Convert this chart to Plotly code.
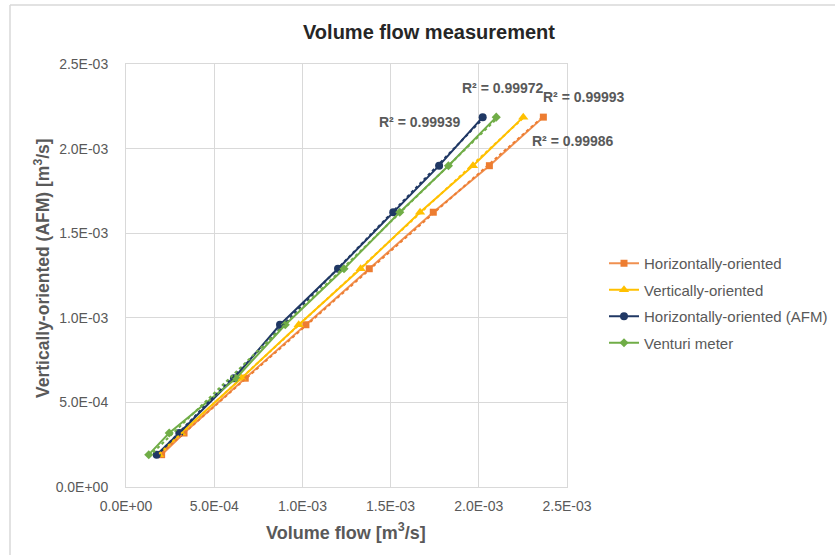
import numpy as np
import plotly.graph_objects as go

# ---- data ----
y_afm_vertical = [1.91e-4, 3.19e-4, 6.43e-4, 9.59e-4, 1.290e-3, 1.624e-3, 1.899e-3, 2.186e-3]

x_horizontal = [2.02e-4, 3.29e-4, 6.76e-4, 1.020e-3, 1.379e-3, 1.742e-3, 2.060e-3, 2.366e-3]
x_vertical = [1.87e-4, 3.12e-4, 6.54e-4, 9.79e-4, 1.330e-3, 1.667e-3, 1.967e-3, 2.252e-3]
x_horizontal_afm = [1.74e-4, 3.02e-4, 6.12e-4, 8.73e-4, 1.202e-3, 1.515e-3, 1.775e-3, 2.022e-3]
x_venturi = [1.29e-4, 2.45e-4, 6.24e-4, 9.03e-4, 1.236e-3, 1.552e-3, 1.828e-3, 2.099e-3]

series_names = ["Horizontally-oriented", "Vertically-oriented",
                "Horizontally-oriented (AFM)", "Venturi meter"]
r2_labels = ["R² = 0.99972", "R² = 0.99993", "R² = 0.99939", "R² = 0.99986"]

tick_vals = [0.0, 5.0e-4, 1.0e-3, 1.5e-3, 2.0e-3, 2.5e-3]
tick_text = ["0.0E+00", "5.0E-04", "1.0E-03", "1.5E-03", "2.0E-03", "2.5E-03"]

# ---- styling ----
W, H = 835, 555
L, R, T, B = 126, 567, 64, 487


def px_x(p):
    return (p - L) / (R - L)


def px_y(p):
    return (B - p) / (B - T)


GRAY = "#595959"
GRID = "#D9D9D9"
FONT = "Liberation Sans, Arial, sans-serif"

styles = [
    dict(color="#ED7D31", line="rgba(237,125,49,0.85)", symbol="square", size=7),
    dict(color="#FFC000", line="#FFC000", symbol="triangle-up", size=9),
    dict(color="#203864", line="#203864", symbol="circle", size=8),
    dict(color="#70AD47", line="#70AD47", symbol="diamond", size=7),
]
xs = [x_horizontal, x_vertical, x_horizontal_afm, x_venturi]

fig = go.Figure()
for i, (name, xv, st) in enumerate(zip(series_names, xs, styles)):
    fig.add_trace(go.Scatter(
        x=xv, y=y_afm_vertical, mode="lines+markers", name=name,
        legendgroup=f"g{i}",
        line=dict(color=st["line"], width=2),
        marker=dict(color=st["color"], symbol=st["symbol"], size=st["size"]),
    ))

# linear trendlines (dotted), drawn on top
for i, (xv, st) in enumerate(zip(xs, styles)):
    xa = np.array(xv)
    ya = np.array(y_afm_vertical)
    k, c = np.polyfit(xa, ya, 1)
    xt = np.array([xa.min(), xa.max()])
    fig.add_trace(go.Scatter(
        x=xt, y=k * xt + c, mode="lines", showlegend=False, hoverinfo="skip",
        line=dict(color=st["color"], width=2, dash="dot"),
    ))

axis_common = dict(
    range=[0, 2.5e-3], tickvals=tick_vals, ticktext=tick_text,
    showgrid=True, gridcolor=GRID, gridwidth=1,
    showline=True, linecolor=GRID, linewidth=1, mirror=True,
    zeroline=False, tickfont=dict(family=FONT, size=14, color=GRAY),
    ticks="",
)

fig.update_layout(
    width=W, height=H,
    margin=dict(l=L, r=W - R, t=T, b=H - B, autoexpand=False),
    paper_bgcolor="white", plot_bgcolor="white",
    font=dict(family=FONT, color=GRAY),
    xaxis=dict(**axis_common, ticklabelstandoff=6),
    yaxis=dict(**axis_common, ticklabelstandoff=14),
    showlegend=True,
    legend=dict(
        x=px_x(604), y=px_y(247), xanchor="left", yanchor="top",
        font=dict(family=FONT, size=15, color=GRAY),
        tracegroupgap=4, bgcolor="rgba(0,0,0,0)",
    ),
)

annotations = [
    dict(text="<b>Volume flow measurement</b>", x=px_x(429), y=px_y(32),
         font=dict(size=20, color="#262626")),
    dict(text="<b>Volume flow [m<sup>3</sup>/s]</b>", x=px_x(346), y=px_y(531),
         font=dict(size=18, color=GRAY)),
    dict(text="<b>Vertically-oriented (AFM) [m<sup>3</sup>/s]</b>", x=px_x(42), y=px_y(268),
         textangle=-90, font=dict(size=17.5, color=GRAY)),
]
r2_pos = [(503, 88), (584, 97), (420, 122), (573, 141)]
for txt, (ax_, ay_) in zip(r2_labels, r2_pos):
    annotations.append(dict(text=f"<b>{txt}</b>", x=px_x(ax_), y=px_y(ay_),
                            font=dict(size=14, color=GRAY)))
for a in annotations:
    a.update(xref="paper", yref="paper", showarrow=False,
             xanchor="center", yanchor="middle")
    a["font"]["family"] = FONT
fig.update_layout(annotations=annotations)

# chart-area frame (top and left edges visible)
fig.add_shape(type="line", xref="paper", yref="paper",
              x0=px_x(10), x1=px_x(840), y0=px_y(5), y1=px_y(5),
              line=dict(color=GRID, width=1.5))
fig.add_shape(type="line", xref="paper", yref="paper",
              x0=px_x(10), x1=px_x(10), y0=px_y(5), y1=px_y(560),
              line=dict(color=GRID, width=1.5))

fig.write_html("out.html",
               config={"displayModeBar": False},
               post_script="document.body.style.margin='0';document.body.style.overflow='hidden';")
